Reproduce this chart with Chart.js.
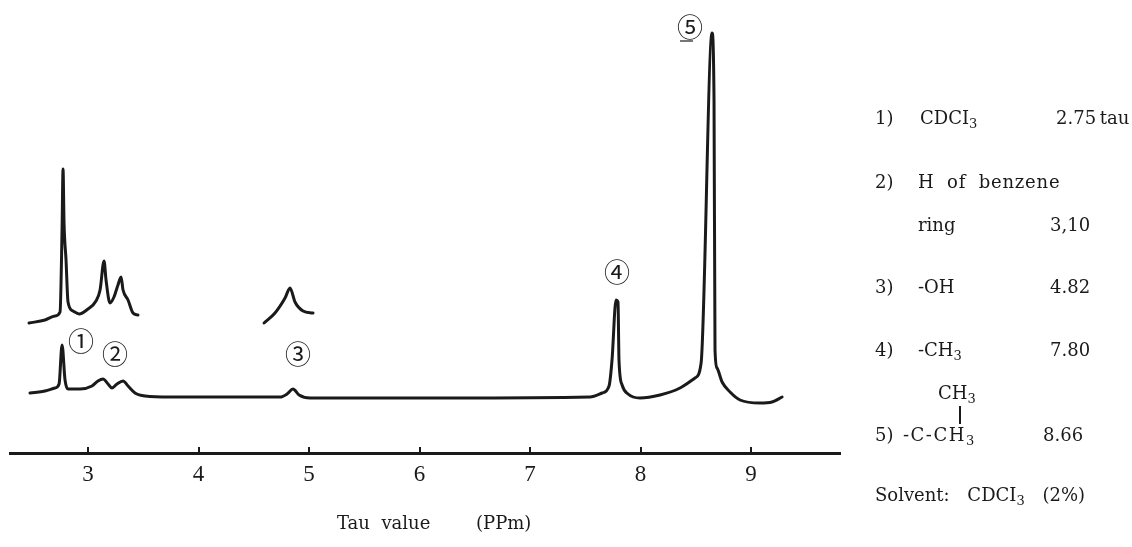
<!DOCTYPE html>
<html>
<head>
<meta charset="utf-8">
<script src="https://cdn.jsdelivr.net/npm/chart.js@4.4.1/dist/chart.umd.min.js"></script>
<style>
  body { margin: 0; background: #fff; }
  #wrap { position: relative; width: 1132px; height: 547px; }
  #wrap canvas { position: absolute; left: 0; top: 0; }
  .t { position: absolute; font-family: "DejaVu Serif", "Liberation Serif", serif; font-size: 18px; line-height: 24px; color: #1a1a1a; white-space: pre; }
  .t .s { font-size: 13px; position: relative; top: 4px; }
  .bar { position: absolute; width: 1.5px; background: #1a1a1a; }
</style>
</head>
<body>
<div id="wrap">
  <canvas id="nmr" width="1132" height="547"></canvas>
  <div class="t" style="left:875px;top:106px">1)</div>
  <div class="t" style="left:920px;top:106px">CDCI<span class="s">3</span></div>
  <div class="t" style="left:1056px;top:106px">2.75&#8201;tau</div>
  <div class="t" style="left:875px;top:170px">2)</div>
  <div class="t" style="left:918px;top:170px;word-spacing:6px;letter-spacing:0.8px">H of benzene</div>
  <div class="t" style="left:918px;top:213px">ring</div>
  <div class="t" style="left:1050px;top:213px">3,10</div>
  <div class="t" style="left:875px;top:275px">3)</div>
  <div class="t" style="left:918px;top:275px">-OH</div>
  <div class="t" style="left:1050px;top:275px">4.82</div>
  <div class="t" style="left:875px;top:338px">4)</div>
  <div class="t" style="left:918px;top:338px">-CH<span class="s">3</span></div>
  <div class="t" style="left:1050px;top:338px">7.80</div>
  <div class="t" style="left:938px;top:381px">CH<span class="s">3</span></div>
  <div class="bar" style="left:959px;top:406px;height:18px"></div>
  <div class="t" style="left:875px;top:423px">5)</div>
  <div class="t" style="left:903px;top:423px;letter-spacing:1.5px">-C-CH<span class="s">3</span></div>
  <div class="t" style="left:1043px;top:423px">8.66</div>
  <div class="t" style="left:875px;top:483px;word-spacing:12px">Solvent: CDCI<span class="s">3</span> (2%)</div>
</div>
<script>
// main trace (tau, relative intensity)
const mainTau = [2.475, 2.611, 2.701, 2.738, 2.765, 2.792, 2.819, 2.928, 3.036, 3.09, 3.136, 3.181, 3.217, 3.262, 3.317, 3.362, 3.425, 3.516, 3.742,
  4.738, 4.801, 4.855, 4.91, 5.009, 6.276, 7.543, 7.652, 7.715, 7.742, 7.778, 7.796, 7.805, 7.833, 7.887, 7.995,
  8.176, 8.357, 8.493, 8.548, 8.647, 8.665, 8.674, 8.692, 8.738, 8.81, 8.9, 9.081, 9.19, 9.281];
const mainInt = [4, 6, 9, 13, 52, 17, 8, 8, 11, 16, 18, 13, 9, 13, 16, 11, 4, 1, 0,
  0, 3, 8, 2, -1, -1, 0, 4, 11, 37, 97, 95, 37, 12, 3, -1,
  2, 9, 19, 34, 364, 297, 47, 29, 15, 5, -3, -6, -5, 0];

// expanded traces drawn above peaks 1, 2 and 3
const inset1Tau = [2.466, 2.611, 2.701, 2.747, 2.765, 2.774, 2.783, 2.801, 2.819, 2.864, 2.919, 3.0, 3.072, 3.109, 3.145, 3.163, 3.199, 3.235, 3.271, 3.299, 3.317, 3.362, 3.407, 3.452];
const inset1Int = [74, 77, 81, 85, 167, 228, 174, 137, 95, 86, 83, 88, 96, 107, 136, 117, 94, 100, 112, 120, 107, 97, 84, 82];
const inset3Tau = [4.593, 4.692, 4.783, 4.828, 4.873, 4.946, 5.036];
const inset3Int = [74, 84, 99, 109, 95, 86, 84];

const tickValues = [3, 4, 5, 6, 7, 8, 9];

// circled peak numbers
const markText = ["\u2460", "\u2461", "\u2462", "\u2463", "\u2464"];
const markTau = [2.937, 3.244, 4.9, 7.787, 8.448];
const markInt = [56, 43, 43, 125, 370];

function pts(xs, ys) {
  return xs.map((x, i) => ({ x: x, y: ys[i] }));
}

function trace(xs, ys) {
  return {
    data: pts(xs, ys),
    showLine: true,
    borderColor: "#1a1a1a",
    borderWidth: 3,
    pointRadius: 0,
    cubicInterpolationMode: "monotone",
    borderCapStyle: "round",
    borderJoinStyle: "round"
  };
}

const marksPlugin = {
  id: "marks",
  afterDatasetsDraw(chart) {
    const ctx = chart.ctx;
    const xs = chart.scales.x, ys = chart.scales.y;
    ctx.save();
    ctx.fillStyle = "#1a1a1a";
    ctx.strokeStyle = "#1a1a1a";
    ctx.font = "26px 'Noto Sans CJK JP', 'DejaVu Sans', sans-serif";
    ctx.textAlign = "center";
    ctx.textBaseline = "middle";
    for (let i = 0; i < markText.length; i++) {
      ctx.fillText(markText[i], xs.getPixelForValue(markTau[i]), ys.getPixelForValue(markInt[i]));
    }
    // little underline under (5)
    const ux = xs.getPixelForValue(markTau[4]), uy = ys.getPixelForValue(markInt[4]);
    ctx.lineWidth = 1.2;
    ctx.beginPath();
    ctx.moveTo(ux - 10, uy + 14);
    ctx.lineTo(ux + 3, uy + 14);
    ctx.stroke();
    // axis title, sits a bit right of centre in the original
    ctx.font = "18px 'DejaVu Serif', 'Liberation Serif', serif";
    ctx.textAlign = "left";
    const x3 = xs.getPixelForValue(3);
    ctx.fillText("Tau  value", x3 + 249, 524);
    ctx.fillText("(PPm)", x3 + 388, 524);
    ctx.restore();
  }
};

new Chart(document.getElementById("nmr"), {
  type: "scatter",
  data: {
    datasets: [trace(mainTau, mainInt), trace(inset1Tau, inset1Int), trace(inset3Tau, inset3Int)]
  },
  options: {
    responsive: false,
    animation: false,
    layout: { padding: { left: 10, right: 292, top: 10, bottom: 0 } },
    plugins: { legend: { display: false }, tooltip: { enabled: false } },
    scales: {
      x: {
        type: "linear",
        min: 2.294,
        max: 9.805,
        afterBuildTicks(scale) {
          scale.ticks = tickValues.map(v => ({ value: v }));
        },
        afterFit(scale) {
          scale.height = 94;
        },
        border: { display: true, color: "#1a1a1a", width: 3 },
        grid: { drawOnChartArea: false, drawTicks: true, tickLength: -6, color: "#1a1a1a", lineWidth: 2 },
        ticks: {
          padding: 14,
          color: "#1a1a1a",
          font: { family: "'Liberation Serif', 'DejaVu Serif', serif", size: 23 }
        }
      },
      y: {
        display: false,
        min: -56,
        max: 387
      }
    }
  },
  plugins: [marksPlugin]
});
</script>
</body>
</html>
